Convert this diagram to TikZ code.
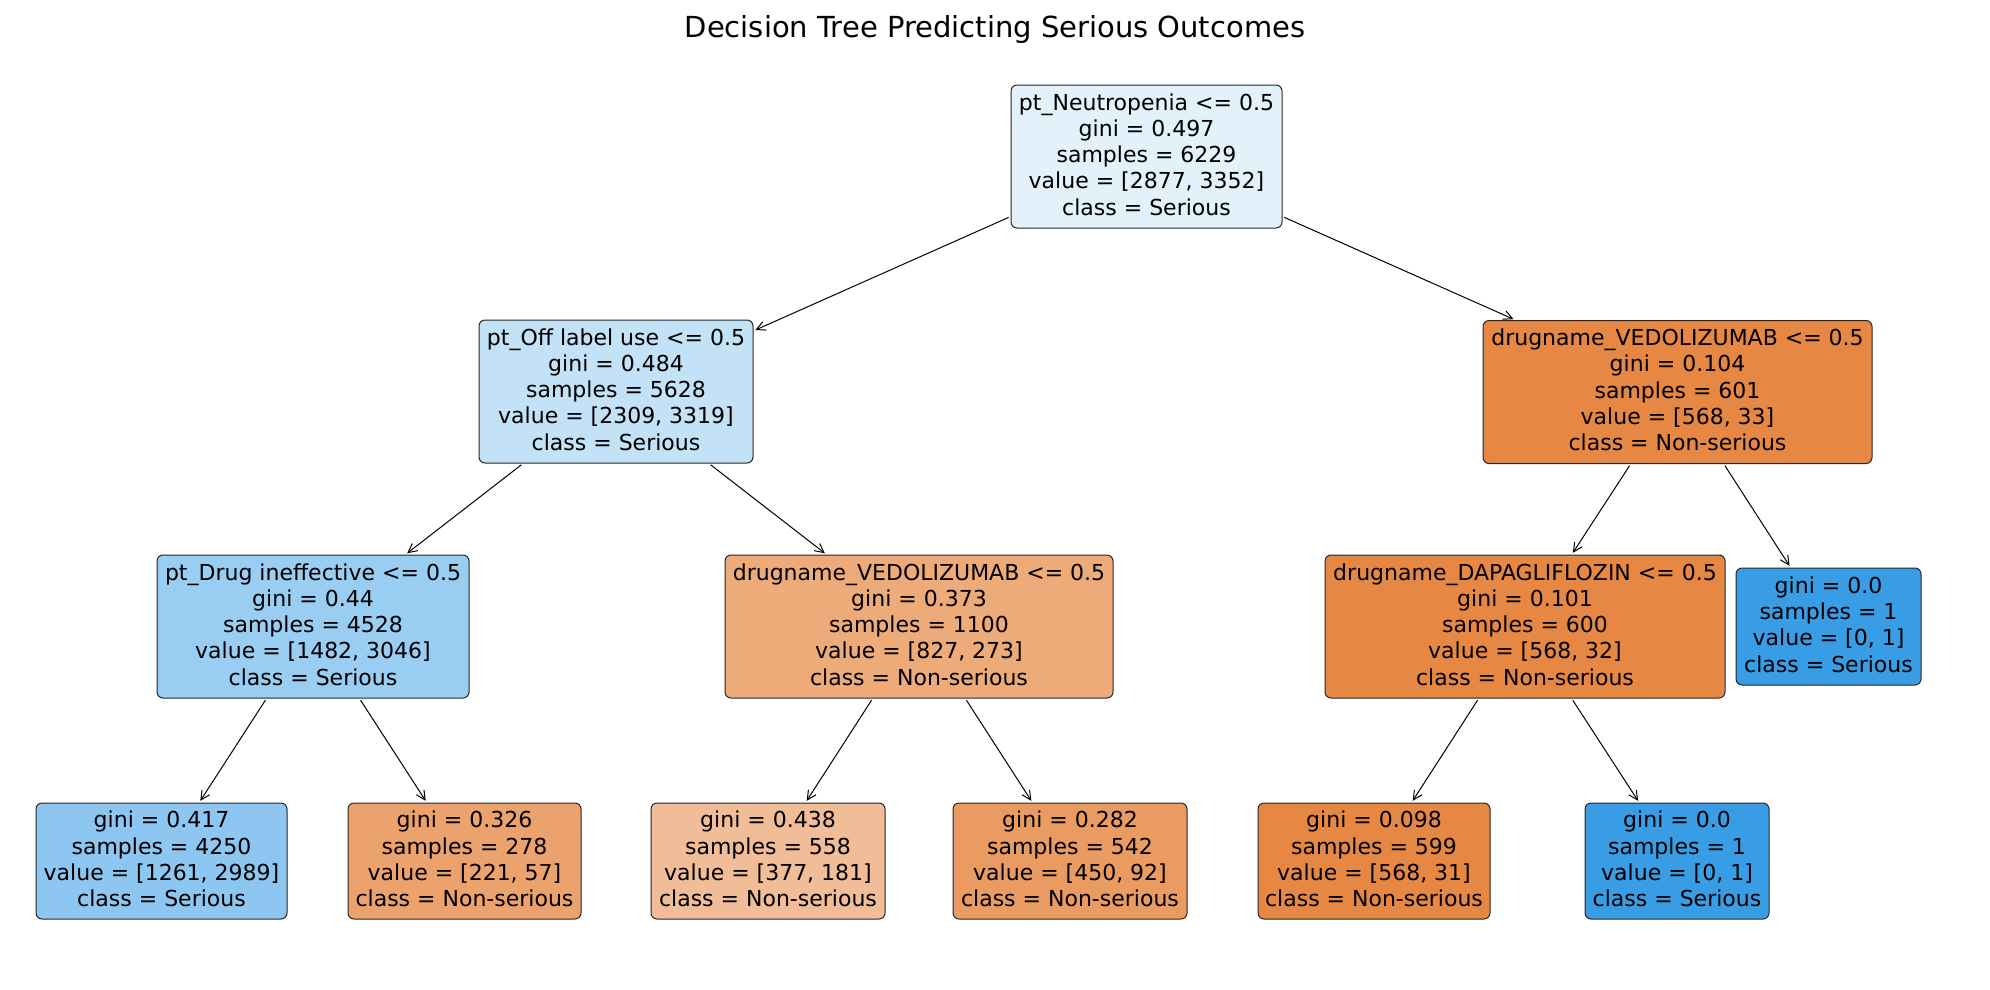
\documentclass[tikz,border=0pt]{standalone}
\usepackage{fontspec}
\setmainfont{DejaVu Sans}
\usetikzlibrary{arrows.meta}
\definecolor{cRoot}{RGB}{227,241,251}
\definecolor{cA}{RGB}{195,225,247}
\definecolor{cC}{RGB}{153,205,242}
\definecolor{cG}{RGB}{141,198,240}
\definecolor{cBlue}{RGB}{57,157,229}
\definecolor{cB}{RGB}{230,136,68}
\definecolor{cD}{RGB}{238,171,122}
\definecolor{cE}{RGB}{230,136,68}
\definecolor{cH}{RGB}{236,162,108}
\definecolor{cI}{RGB}{241,189,152}
\definecolor{cJ}{RGB}{234,155,97}
\definecolor{cK}{RGB}{230,136,68}
\newcommand{\sk}{\rule[-4.4pt]{0pt}{18pt}}
\tikzset{
  tn/.style={draw=black!85, line width=1pt, rounded corners=6pt, align=center, inner sep=0pt,
    font=\fontsize{22}{26.3}\selectfont},
  inner/.style={tn, minimum height=143pt},
  leaf/.style={tn, minimum height=116pt},
  ar/.style={-{Straight Barb[length=9pt,width=9pt]}, line width=1pt, shorten <=2pt, shorten >=2pt}
}
\begin{document}
\begin{tikzpicture}[x=1pt,y=-1pt]
\useasboundingbox (0,0) rectangle (1990,989);
\node[anchor=base, font=\fontsize{29}{34}\selectfont] (title) at (995,37) {Decision Tree Predicting Serious Outcomes};

\node[inner, fill=cRoot, minimum width=271pt] (root) at (1146.5,156.5)
 {\sk pt\_Neutropenia <= 0.5\\gini = 0.497\\samples = 6229\\value = [2877, 3352]\\class = Serious\sk};

\node[inner, fill=cA, minimum width=274pt] (A) at (616,391.5)
 {\sk pt\_Off label use <= 0.5\\gini = 0.484\\samples = 5628\\value = [2309, 3319]\\class = Serious\sk};
\node[inner, fill=cB, minimum width=389pt] (B) at (1677.5,392)
 {\sk drugname\_VEDOLIZUMAB <= 0.5\\gini = 0.104\\samples = 601\\value = [568, 33]\\class = Non-serious\sk};

\node[inner, fill=cC, minimum width=312pt] (C) at (313,626.5)
 {\sk pt\_Drug ineffective <= 0.5\\gini = 0.44\\samples = 4528\\value = [1482, 3046]\\class = Serious\sk};
\node[inner, fill=cD, minimum width=388pt] (D) at (919,626.5)
 {\sk drugname\_VEDOLIZUMAB <= 0.5\\gini = 0.373\\samples = 1100\\value = [827, 273]\\class = Non-serious\sk};
\node[inner, fill=cE, minimum width=400pt] (E) at (1525,626.5)
 {\sk drugname\_DAPAGLIFLOZIN <= 0.5\\gini = 0.101\\samples = 600\\value = [568, 32]\\class = Non-serious\sk};
\node[leaf, fill=cBlue, minimum width=185pt, minimum height=117pt] (F) at (1828.5,626.5)
 {\sk gini = 0.0\\samples = 1\\value = [0, 1]\\class = Serious\sk};

\node[leaf, fill=cG, minimum width=251pt] (G) at (161.5,861)
 {\sk gini = 0.417\\samples = 4250\\value = [1261, 2989]\\class = Serious\sk};
\node[leaf, fill=cH, minimum width=233pt] (H) at (464.5,861)
 {\sk gini = 0.326\\samples = 278\\value = [221, 57]\\class = Non-serious\sk};
\node[leaf, fill=cI, minimum width=234pt] (I) at (768,861)
 {\sk gini = 0.438\\samples = 558\\value = [377, 181]\\class = Non-serious\sk};
\node[leaf, fill=cJ, minimum width=234pt] (J) at (1070,861)
 {\sk gini = 0.282\\samples = 542\\value = [450, 92]\\class = Non-serious\sk};
\node[leaf, fill=cK, minimum width=232pt] (K) at (1374,861)
 {\sk gini = 0.098\\samples = 599\\value = [568, 31]\\class = Non-serious\sk};
\node[leaf, fill=cBlue, minimum width=184pt] (L) at (1677,861)
 {\sk gini = 0.0\\samples = 1\\value = [0, 1]\\class = Serious\sk};

\draw[ar] (root) -- (A);
\draw[ar] (root) -- (B);
\draw[ar] (A) -- (C);
\draw[ar] (A) -- (D);
\draw[ar] (C) -- (G);
\draw[ar] (C) -- (H);
\draw[ar] (D) -- (I);
\draw[ar] (D) -- (J);
\draw[ar] (B) -- (E);
\draw[ar] (B) -- (F);
\draw[ar] (E) -- (K);
\draw[ar] (E) -- (L);
\end{tikzpicture}
\end{document}
